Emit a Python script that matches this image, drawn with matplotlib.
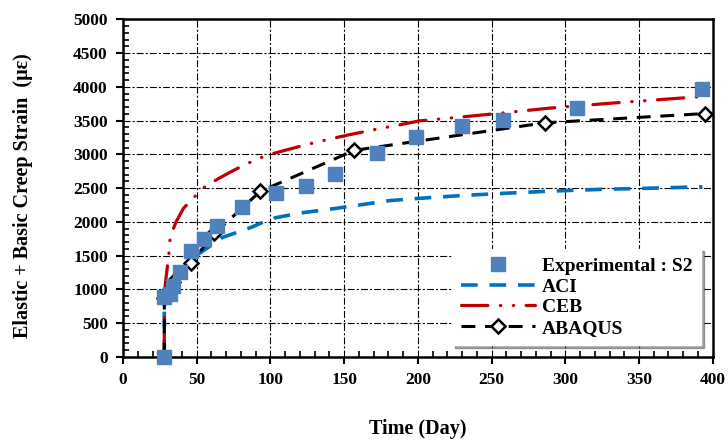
import matplotlib.pyplot as plt
from matplotlib.ticker import MultipleLocator

# values
exp_t = [28, 28, 32, 34, 38.5, 46, 55, 64, 81, 104, 124, 144, 172, 199, 230, 258, 308, 393]
exp_s = [0, 880, 935, 1055, 1255, 1567, 1751, 1935, 2222, 2421, 2530, 2704, 3026, 3254, 3423, 3512, 3685, 3968]

aci_t = [28, 28, 32, 38, 45, 51, 57, 67, 86, 101, 120, 144, 181, 199, 230, 256, 290, 323, 360, 393]
aci_s = [0, 880, 1050, 1250, 1420, 1520, 1610, 1765, 1910, 2050, 2130, 2198, 2315, 2345, 2390, 2420, 2455, 2480, 2500, 2519]

ceb_t = [28, 28, 29, 31, 32, 36, 41, 48, 55, 64, 74, 83, 92, 102, 112, 123, 132, 152, 163, 174,
         183, 201, 235, 256, 287, 303, 332, 357, 395]
ceb_s = [0, 900, 1140, 1500, 1780, 2000, 2200, 2360, 2510, 2632, 2751, 2850, 2940, 3013, 3072, 3136,
         3185, 3284, 3333, 3383, 3417, 3496, 3565, 3610, 3680, 3710, 3760, 3800, 3860]

abq_t = [28, 28, 30, 34, 46, 62, 93, 157, 286, 395]
abq_s = [0, 870, 960, 1110, 1390, 1828, 2450, 3060, 3467, 3605]

plt.rcParams['font.family'] = ['Liberation Serif', 'DejaVu Serif']
plt.rcParams['font.weight'] = 'bold'
plt.rcParams['lines.scale_dashes'] = False

fig = plt.figure(figsize=(7.28, 4.41), dpi=100)
ax = fig.add_axes([0.169, 0.191, 0.81, 0.765])

ax.plot(aci_t, aci_s, color='#0070C0', lw=2.6, linestyle=(0, (12, 8.5)), label='ACI', zorder=3)
ceb, = ax.plot(ceb_t, ceb_s, color='#C00000', lw=2.3, linestyle=(0, (19, 9, 0.3, 9, 0.3, 9)),
               label='CEB', zorder=3)
ceb.set_dash_capstyle('round')
ax.plot(abq_t, abq_s, color='black', lw=2.2, linestyle=(0, (10, 7)), marker='D', markersize=7,
        markerfacecolor='white', markeredgecolor='black', markeredgewidth=1.8,
        label='ABAQUS', zorder=4)
ax.plot(exp_t, exp_s, linestyle='none', marker='s', markersize=9.5, color='#4F81BD',
        label='Experimental : S2', zorder=5, clip_on=False)

ax.set_xlim(0, 400)
ax.set_ylim(0, 5000)
ax.xaxis.set_major_locator(MultipleLocator(50))
ax.xaxis.set_minor_locator(MultipleLocator(10))
ax.yaxis.set_major_locator(MultipleLocator(500))
ax.yaxis.set_minor_locator(MultipleLocator(100))

ax.grid(True, which='major', color='black', lw=0.8, linestyle=(0, (5, 1.5, 1.5, 1.5)))
ax.set_axisbelow(True)

ax.tick_params(axis='both', which='major', direction='out', length=5, width=1.5, labelsize=12.5, pad=6)
ax.tick_params(axis='both', which='minor', direction='in', length=4, width=1.2)
for sp in ax.spines.values():
    sp.set_linewidth(1.8)

ax.set_xlabel('Time (Day)', fontsize=14.5, fontweight='bold', labelpad=22)
ax.set_ylabel('Elastic + Basic Creep Strain  (\u03bc\u03b5)', fontsize=14.5, fontweight='bold')
ax.yaxis.set_label_coords(-0.152, 0.479)

h, l = ax.get_legend_handles_labels()
order = [3, 0, 1, 2]
leg = ax.legend([h[i] for i in order], [l[i] for i in order], loc='lower right',
                bbox_to_anchor=(0.997, 0.005), numpoints=1, handlelength=3.8, handletextpad=0.35,
                labelspacing=0.15, prop={'size': 14, 'weight': 'bold'}, fancybox=False,
                shadow=True, framealpha=1, borderpad=0.45)
leg.get_frame().set_edgecolor('white')

fig.savefig('out.png', dpi=100)
